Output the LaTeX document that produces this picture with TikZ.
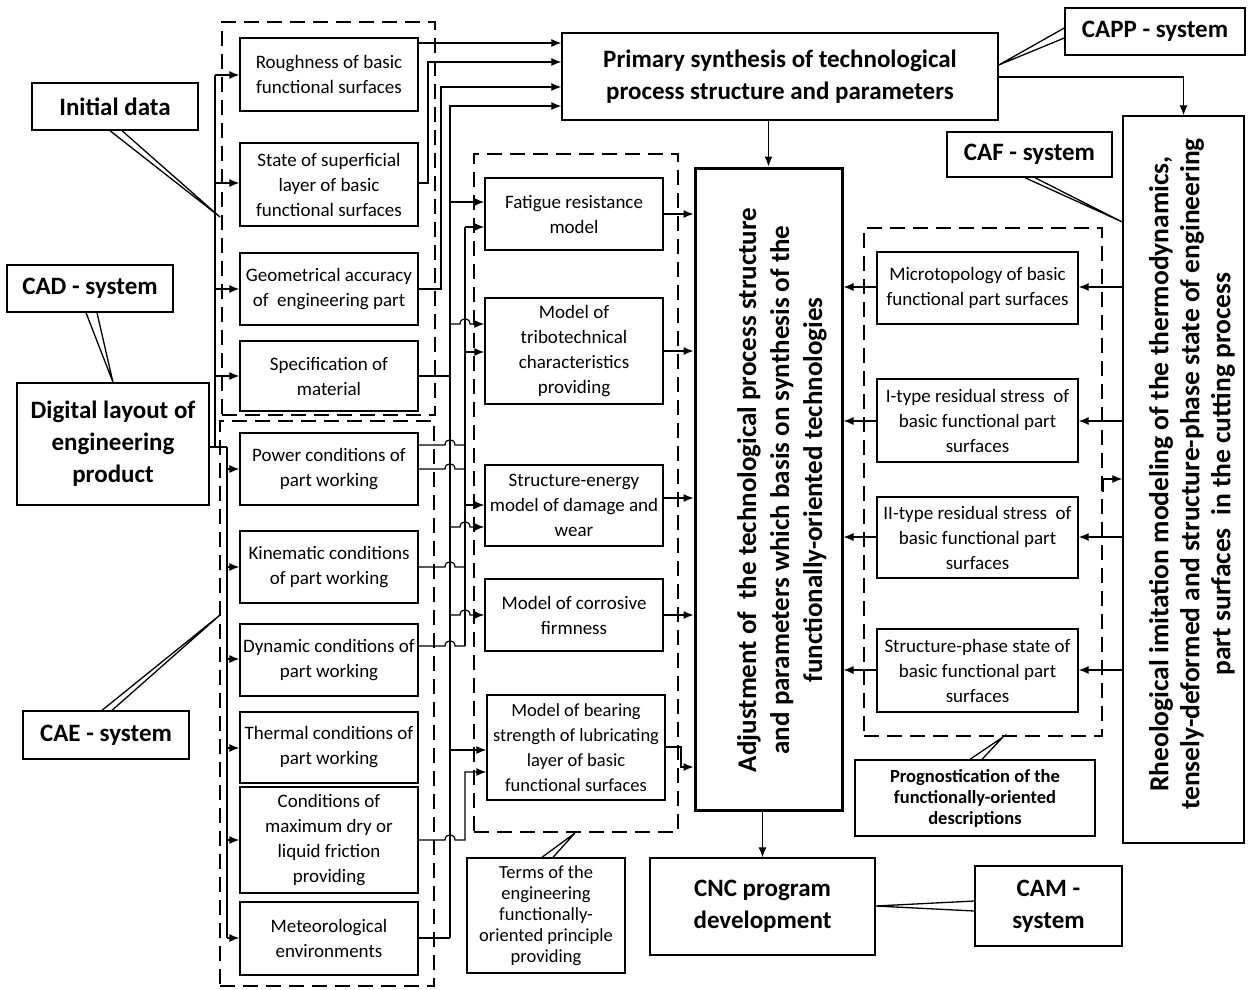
\documentclass[tikz,border=0pt]{standalone}
\usepackage{fontspec}
\setmainfont{Carlito}
\usetikzlibrary{arrows.meta,calc}
\newcommand\bx[7][box]{\node[#1,minimum width={#5-#3},minimum height={#6-#4}] (#2) at ({(#3+#5)/2},{(#4+#6)/2}) {#7};}
\begin{document}
\begin{tikzpicture}[x=1pt,y=-1pt,
  box/.style={draw,line width=1.4pt,fill=white,align=center,inner sep=0pt,font=\fontsize{19}{25}\selectfont},
  lbl/.style={draw,line width=1.4pt,fill=white,align=center,inner sep=0pt,font=\fontsize{25}{32}\selectfont\bfseries},
  plain/.style={draw,line width=1.4pt,fill=white,inner sep=0pt},
  thick box/.style={draw,line width=3pt,fill=white,inner sep=0pt},
  grp/.style={draw,line width=2pt,dash pattern=on 15pt off 8pt,inner sep=0pt},
  con/.style={line width=1.2pt},
  arr/.style={con,-{Latex[length=10pt,width=8pt]}},
  call/.style={line width=1.3pt},
]
\useasboundingbox (0,0) rectangle (1254,989);
\fill[white] (0,0) rectangle (1254,989);

% dashed groups
\bx[grp]{gA}{222}{22}{435}{415}{}
\bx[grp]{gB}{220}{421}{434}{986}{}
\bx[grp]{gC}{474}{154}{678}{832}{}
\bx[grp]{gD}{864}{228}{1102}{736}{}

% left column
\bx{r1}{240}{38}{418}{111}{Roughness of basic\\functional surfaces}
\bx{r2}{240}{143}{418}{226}{State of superficial\\layer of basic\\functional surfaces}
\bx{r3}{240}{253}{418}{325}{Geometrical accuracy\\of\ \ engineering part}
\bx{r4}{240}{341}{418}{411}{Specification of\\material}
\bx{b1}{240}{433}{418}{505}{Power conditions of\\part working}
\bx{b2}{240}{531}{418}{603}{Kinematic conditions\\of part working}
\bx{b3}{240}{624}{418}{696}{Dynamic conditions of\\part working}
\bx{b4}{240}{712}{418}{783}{Thermal conditions of\\part working}
\bx{b5}{240}{787}{418}{893}{Conditions of\\maximum dry or\\liquid friction\\providing}
\bx{b6}{240}{902}{418}{975}{Meteorological\\environments}

% middle column
\bx{m1}{485}{178}{663}{250}{Fatigue resistance\\model}
\bx{m2}{485}{298}{663}{404}{Model of\\tribotechnical\\characteristics\\providing}
\bx{m3}{485}{465}{663}{546}{Structure-energy\\model of damage and\\wear}
\bx{m4}{485}{579}{663}{651}{Model of corrosive\\firmness}
\bx[box,font=\fontsize{18.5}{25}\selectfont]{m5}{487}{695}{665}{800}{Model of bearing\\strength of lubricating\\layer of basic\\functional surfaces}

% right column
\bx{d1}{877}{252}{1078}{324}{Microtopology of basic\\functional part surfaces}
\bx{d2}{877}{379}{1078}{462}{I-type residual stress\ \ of\\basic functional part\\surfaces}
\bx{d3}{877}{497}{1078}{578}{II-type residual stress\ \ of\\basic functional part\\surfaces}
\bx{d4}{877}{629}{1078}{712}{Structure-phase state of\\basic functional part\\surfaces}

% big boxes
\bx[lbl]{prim}{562}{33}{998}{120}{Primary synthesis of technological\\process structure and parameters}
\bx[thick box]{adj}{695}{168}{842}{810}{}
\node[rotate=90,align=center,font=\fontsize{27}{33}\selectfont\bfseries] (adjtext) at (782,490)
  {Adjustment of\ \ the technological process structure\\and parameters which basis on synthesis of the\\functionally-oriented technologies};
\bx[plain]{rheo}{1123}{116}{1244}{843}{}
\node[rotate=90,align=center,font=\fontsize{27.5}{31}\selectfont\bfseries] (rheotext) at (1192,474)
  {Rheological imitation modeling of the thermodynamics,\\tensely-deformed and structure-phase state of engineering\\part surfaces\ \ in the cutting process};
\bx[lbl]{cnc}{650}{858}{875}{955}{CNC program\\development}
\bx[lbl]{dl}{17}{383}{209}{505}{Digital layout of\\engineering\\product}

% labels
\bx[lbl]{init}{32}{83}{198}{130}{Initial data}
\bx[lbl]{cad}{7}{265}{173}{312}{CAD - system}
\bx[lbl]{cae}{23}{711}{189}{759}{CAE - system}
\bx[lbl]{capp}{1065}{8}{1245}{55}{CAPP - system}
\bx[lbl]{caf}{947}{132}{1112}{177}{CAF - system}
\bx[lbl]{cam}{975}{866}{1122}{946}{CAM -\\system}
\bx[box,font=\fontsize{18.5}{21}\selectfont]{terms}{467}{858}{625}{973}{Terms of the\\engineering\\functionally-\\oriented principle\\providing}
\bx[box,font=\fontsize{18.5}{21}\selectfont\bfseries]{prog}{855}{760}{1095}{836}{Prognostication of the\\functionally-oriented\\descriptions}

% buses from digital layout
\draw[con] (dl.east |- 0,447) -- (227,447);
\draw[con] (215,447) -- (215,75);
\draw[con] (227,447) -- (227,938);
\foreach \y/\n in {75/r1,183/r2,289/r3,376/r4} \draw[arr] (215,\y) -- (\n.west |- 0,\y);
\foreach \y/\n in {469/b1,567/b2,659/b3,748/b4,840/b5,938/b6} \draw[arr] (227,\y) -- (\n.west |- 0,\y);

% group A to primary synthesis
\draw[arr] (r1.east |- 0,43) -- (prim.west |- 0,43);
\draw[arr] (r2.east |- 0,183) -- (428,183) -- (428,62) -- (prim.west |- 0,62);
\draw[arr] (r3.east |- 0,289) -- (441,289) -- (441,87) -- (prim.west |- 0,87);
\draw[arr] (r4.east |- 0,376) -- (450,376) -- (450,106) -- (prim.west |- 0,106);

% bus at x=450
\draw[con] (450,376) -- (450,938);
\draw[con] (b6.east |- 0,938) -- (450,938);
% bus at x=465
\draw[con] (465,227) -- (465,646);
\foreach \y/\n in {445/b1,469/b1,567/b2,646/b3}
  \draw[con] (\n.east |- 0,\y) -- (445,\y) .. controls (445,\y-7) and (455,\y-7) .. (455,\y) -- (465,\y);
\draw[arr] (b5.east |- 0,840) -- (445,840) .. controls (445,833) and (455,833) .. (455,840) -- (465,840) -- (465,772) -- (m5.west |- 0,772);

% inputs of middle models
\draw[arr] (450,202) -- (m1.west |- 0,202);
\foreach \y/\n in {324/m2,527/m3,615/m4}
  \draw[arr] (450,\y) -- (460,\y) .. controls (460,\y-7) and (470,\y-7) .. (470,\y) -- (\n.west |- 0,\y);
\draw[arr] (450,750) -- (m5.west |- 0,750);
\foreach \y/\n in {227/m1,352/m2,505/m3} \draw[arr] (465,\y) -- (\n.west |- 0,\y);

% middle to adjustment
\foreach \y/\n in {214/m1,351/m2,498/m3,615/m4} \draw[arr] (\n.east |- 0,\y) -- (adj.west |- 0,\y);
\draw[arr] (m5.east |- 0,747) -- (681,747) -- (681,767) -- (adj.west |- 0,767);

% right side
\foreach \y/\n in {287/d1,421/d2,537/d3,670/d4} {
  \draw[arr] (rheo.west |- 0,\y) -- (\n.east |- 0,\y);
  \draw[arr] (\n.west |- 0,\y) -- (adj.east |- 0,\y);
}
\draw[arr] (gD.east |- 0,492) |- (rheo.west |- 0,479);

% main flow
\draw[arr] (prim.east |- 0,77) -| (rheo.north);
\draw[arr] (prim.south -| adj.north) -- (adj.north);
\draw[arr] (adj.south -| cnc.north) -- (cnc.north);

% callouts
\coordinate (tInit) at (220,217);
\coordinate (tCae) at (220,615);
\draw[call] (init.south -| 110,0) -- (tInit) -- (init.south -| 122,0);
\draw[call] (cad.south -| 86,0) -- (dl.north -| 113,0) -- (cad.south -| 97,0);
\draw[call] (cae.north -| 102,0) -- (tCae) -- (cae.north -| 112,0);
\draw[call] (capp.west |- 0,28) -- (prim.east |- 0,65) -- (capp.west |- 0,38);
\draw[call] (caf.south -| 1025,0) -- (rheo.west |- 0,222) -- (caf.south -| 1035,0);
\draw[call] (cam.west |- 0,901) -- (cnc.east |- 0,906) -- (cam.west |- 0,911);
\draw[call] (terms.north -| 542,0) -- (gC.south -| 575,0) -- (terms.north -| 553,0);
\draw[call] (prog.north -| 970,0) -- (gD.south -| 1003,0) -- (prog.north -| 982,0);
\end{tikzpicture}
\end{document}
